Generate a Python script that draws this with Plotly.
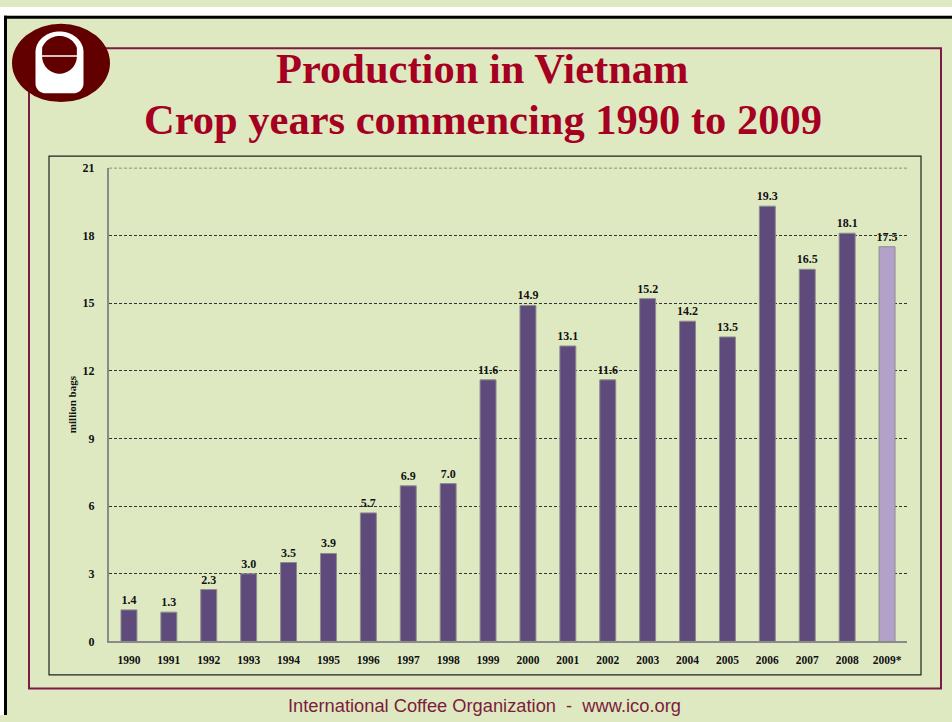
import math
import plotly.graph_objects as go

years = ["1990", "1991", "1992", "1993", "1994", "1995", "1996", "1997", "1998", "1999",
         "2000", "2001", "2002", "2003", "2004", "2005", "2006", "2007", "2008", "2009*"]
production = [1.4, 1.3, 2.3, 3.0, 3.5, 3.9, 5.7, 6.9, 7.0, 11.6,
              14.9, 13.1, 11.6, 15.2, 14.2, 13.5, 19.3, 16.5, 18.1, 17.5]
y_ticks = [0, 3, 6, 9, 12, 15, 18, 21]

W, H = 952, 722
BG = "#DFE9C1"
DARK_BAR = "#5E4A7B"
LIGHT_BAR = "#B2A2CA"
MAROON = "#7D1A45"
LOGO = "#620000"
TITLE = "#A50021"


def px(x):
    return x / W


def py(y):
    return 1 - y / H


def path_pts(pts):
    return "M " + " L ".join(f"{px(x):.5f},{py(y):.5f}" for x, y in pts) + " Z"


colors = [LIGHT_BAR if y.endswith("*") else DARK_BAR for y in years]

fig = go.Figure()
fig.add_trace(go.Bar(
    x=years, y=production,
    marker=dict(color=colors, line=dict(color="#8C8C8C", width=1)),
    text=[f"{v:.1f}" for v in production],
    textposition="outside",
    constraintext="none",
    textfont=dict(family="Liberation Serif", size=12, color="#111111", weight=700),
    cliponaxis=False,
    hoverinfo="x+y",
))

shapes = []
shapes.append(dict(type="rect", xref="paper", yref="paper", x0=0, x1=1, y0=py(9), y1=1,
                   fillcolor="#FFFFFF", line=dict(width=0), layer="below"))
shapes.append(dict(type="rect", xref="paper", yref="paper", x0=0, x1=px(4), y0=0, y1=1,
                   fillcolor="#FFFFFF", line=dict(width=0), layer="below"))
shapes.append(dict(type="line", xref="paper", yref="paper", x0=px(5.5), x1=px(5.5), y0=py(9), y1=0,
                   line=dict(color="#000000", width=3), layer="below"))
shapes.append(dict(type="line", xref="paper", yref="paper", x0=px(4), x1=1, y0=py(10.5), y1=py(10.5),
                   line=dict(color="#000000", width=3), layer="below"))
shapes.append(dict(type="rect", xref="paper", yref="paper", x0=px(29), x1=px(941), y0=py(42), y1=py(695),
                   line=dict(color=MAROON, width=2), layer="below"))
shapes.append(dict(type="rect", xref="paper", yref="paper", x0=px(49), x1=px(921), y0=py(152), y1=py(681),
                   line=dict(color="#222222", width=1.2), layer="below"))
# dashed line at top of value axis
shapes.append(dict(type="line", xref="x domain", yref="y", x0=0, x1=1, y0=y_ticks[-1], y1=y_ticks[-1],
                   line=dict(color="#333333", width=1, dash="3px,2px"), layer="above"))
# logo
shapes.append(dict(type="circle", xref="paper", yref="paper", x0=px(12), x1=px(110), y0=py(17), y1=py(97),
                   fillcolor=LOGO, line=dict(width=0), layer="above"))
cx = 59.5
cup = []
for i in range(0, 41):
    a = math.pi + math.pi * i / 40
    cup.append((cx + 24 * math.cos(a), 46 + 21 * math.sin(a)))
for i in range(0, 21):
    a = math.pi / 2 * i / 20
    cup.append((cx + 14 + 10 * math.cos(a), 78 + 10 * math.sin(a)))
for i in range(0, 21):
    a = math.pi / 2 + math.pi / 2 * i / 20
    cup.append((cx - 14 + 10 * math.cos(a), 78 + 10 * math.sin(a)))
shapes.append(dict(type="path", xref="paper", yref="paper", path=path_pts(cup),
                   fillcolor="#FFFFFF", line=dict(width=0), layer="above"))
inner = []
for i in range(0, 61):
    a = math.radians(200 + 140 * i / 60)
    inner.append((cx + 18.5 * math.cos(a), 48 + 18.5 * math.sin(a)))
for i in range(0, 41):
    a = math.radians(180 * i / 40)
    inner.append((cx + 17.4 * math.cos(a), 50 + 18 * math.sin(a)))
shapes.append(dict(type="path", xref="paper", yref="paper", path=path_pts(inner),
                   fillcolor=LOGO, line=dict(width=0), layer="above"))
shapes.append(dict(type="line", xref="paper", yref="paper", x0=px(40), x1=px(79), y0=py(50), y1=py(50),
                   line=dict(color="#FFFFFF", width=1.5), layer="above"))

annotations = [
    dict(text="Production in Vietnam", xref="paper", yref="paper", x=px(482), y=py(63),
         xanchor="center", yanchor="middle", showarrow=False,
         font=dict(family="Liberation Serif", size=42.5, color=TITLE, weight=700)),
    dict(text="Crop years commencing 1990 to 2009", xref="paper", yref="paper", x=px(483), y=py(115),
         xanchor="center", yanchor="middle", showarrow=False,
         font=dict(family="Liberation Serif", size=42.5, color=TITLE, weight=700)),
    dict(text="International Coffee Organization  -  www.ico.org", xref="paper", yref="paper",
         x=px(484), y=py(712.3), xanchor="center", yanchor="middle", showarrow=False,
         font=dict(family="Liberation Sans", size=18.3, color="#7B1C3C")),
    dict(text="million bags", xref="paper", yref="paper", x=px(72), y=py(405),
         xanchor="center", yanchor="middle", showarrow=False, textangle=-90,
         font=dict(family="Liberation Serif", size=11, color="#111111", weight=700)),
]

fig.update_layout(
    width=W, height=H, autosize=False,
    margin=dict(l=0, r=0, t=0, b=0),
    paper_bgcolor=BG, plot_bgcolor=BG,
    showlegend=False,
    bargap=0.6,
    shapes=shapes,
    annotations=annotations,
    xaxis=dict(
        domain=[px(109), px(907)],
        type="category",
        range=[-0.5, 19.5],
        showgrid=False,
        showline=True, linecolor="#8A8A8A", linewidth=2,
        ticks="", ticklabelstandoff=7,
        tickfont=dict(family="Liberation Serif", size=11.5, color="#111111", weight=700),
        fixedrange=True,
    ),
    yaxis=dict(
        domain=[py(647), py(164)],
        range=[0, 21],
        tickvals=y_ticks,
        showgrid=True, gridcolor="#333333", griddash="3px,2px", gridwidth=1,
        zeroline=False,
        showline=True, linecolor="#8A8A8A", linewidth=2,
        ticks="", ticklabelstandoff=10,
        tickfont=dict(family="Liberation Serif", size=12, color="#111111", weight=700),
        fixedrange=True,
    ),
)

post = (
    "var gd=document.getElementById('{plot_id}');"
    "gd.style.position='fixed';gd.style.top='0px';gd.style.left='0px';"
    "document.documentElement.style.margin='0';document.documentElement.style.padding='0';"
    "document.documentElement.style.overflow='hidden';document.documentElement.style.height='722px';"
    "document.body.style.margin='0';document.body.style.padding='0';"
    "document.body.style.overflow='hidden';document.body.style.height='722px';"
)

fig.write_html("out.html", config={"displayModeBar": False}, post_script=post)
